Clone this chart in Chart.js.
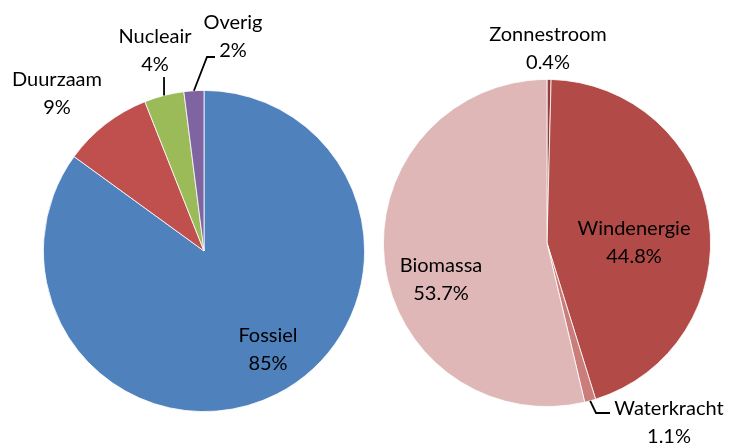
<!DOCTYPE html>
<html>
<head>
<meta charset="utf-8">
<script src="https://cdn.jsdelivr.net/npm/chart.js@4"></script>
<style>
    body { margin: 0; background: #fff; }
    #wrap { position: relative; width: 733px; height: 443px; overflow: hidden; }
    canvas { position: absolute; left: 0; top: 0; }
</style>
</head>
<body>
<div id="wrap">
    <canvas id="pieLinks" width="733" height="443"></canvas>
    <canvas id="pieRechts" width="733" height="443"></canvas>
</div>
<script>
// energiemix totaal
const linksLabels = ['Fossiel', 'Duurzaam', 'Nucleair', 'Overig'];
const linksWaarden = [85, 9, 4, 2];
const linksKleuren = ['#4F81BD', '#C0504D', '#9BBB59', '#8064A2'];

// duurzame elektriciteit
const rechtsLabels = ['Zonnestroom', 'Windenergie', 'Waterkracht', 'Biomassa'];
const rechtsWaarden = [0.4, 44.8, 1.1, 53.7];
const rechtsKleuren = ['#963C3A', '#B24A48', '#CB7D7B', '#DFB7B6'];

// plek van de teksten t.o.v. het midden van de taart (px), plus eventuele leader lijn
const linksTekst = [
    { x: 64, y: 85 },
    { x: -147, y: -171 },
    { x: -49, y: -214, lijn: [[-40, -174]] },
    { x: 29, y: -228, lijn: [[3, -194], [11, -194]] }
];
const rechtsTekst = [
    { x: 1, y: -208 },
    { x: 87, y: -14 },
    { x: 122, y: 166, lijn: [[49, 170], [63, 170]] },
    { x: -106, y: 23 }
];

const FONT = '20px Lato, "Open Sans", sans-serif';

const labelPlugin = {
    id: 'labelPlugin',
    afterDraw(chart) {
        const cfg = chart.options.plugins.labelPlugin;
        const ctx = chart.ctx;
        const meta = chart.getDatasetMeta(0);
        const waarden = chart.data.datasets[0].data;
        ctx.save();
        ctx.font = FONT;
        ctx.fillStyle = '#000';
        ctx.textAlign = 'center';
        ctx.textBaseline = 'middle';
        meta.data.forEach((arc, i) => {
            const t = cfg.tekst[i];
            const cx = arc.x, cy = arc.y;
            const pct = cfg.decimalen ? waarden[i].toFixed(1) + '%' : waarden[i] + '%';
            ctx.fillText(chart.data.labels[i], cx + t.x, cy + t.y);
            ctx.fillText(pct, cx + t.x, cy + t.y + 28);
            if (t.lijn) {
                const mid = (arc.startAngle + arc.endAngle) / 2;
                ctx.beginPath();
                ctx.strokeStyle = '#000';
                ctx.lineWidth = 1.8;
                ctx.moveTo(cx + Math.cos(mid) * arc.outerRadius, cy + Math.sin(mid) * arc.outerRadius);
                t.lijn.forEach(p => ctx.lineTo(cx + p[0], cy + p[1]));
                ctx.stroke();
            }
        });
        ctx.restore();
    }
};

function maakTaart(id, labels, waarden, kleuren, tekst, padding, decimalen) {
    return new Chart(document.getElementById(id).getContext('2d'), {
        type: 'pie',
        data: {
            labels: labels,
            datasets: [{
                data: waarden,
                backgroundColor: kleuren,
                borderColor: '#ffffff',
                borderWidth: 0.8,
                hoverOffset: 0
            }]
        },
        options: {
            responsive: false,
            animation: false,
            layout: { padding: padding },
            plugins: {
                legend: { display: false },
                tooltip: { enabled: false },
                labelPlugin: { tekst: tekst, decimalen: decimalen }
            }
        },
        plugins: [labelPlugin]
    });
}

maakTaart('pieLinks', linksLabels, linksWaarden, linksKleuren, linksTekst,
    { left: 43, top: 90, right: 368, bottom: 31 }, false);
maakTaart('pieRechts', rechtsLabels, rechtsWaarden, rechtsKleuren, rechtsTekst,
    { left: 383, top: 79, right: 22, bottom: 36 }, true);
</script>
</body>
</html>
